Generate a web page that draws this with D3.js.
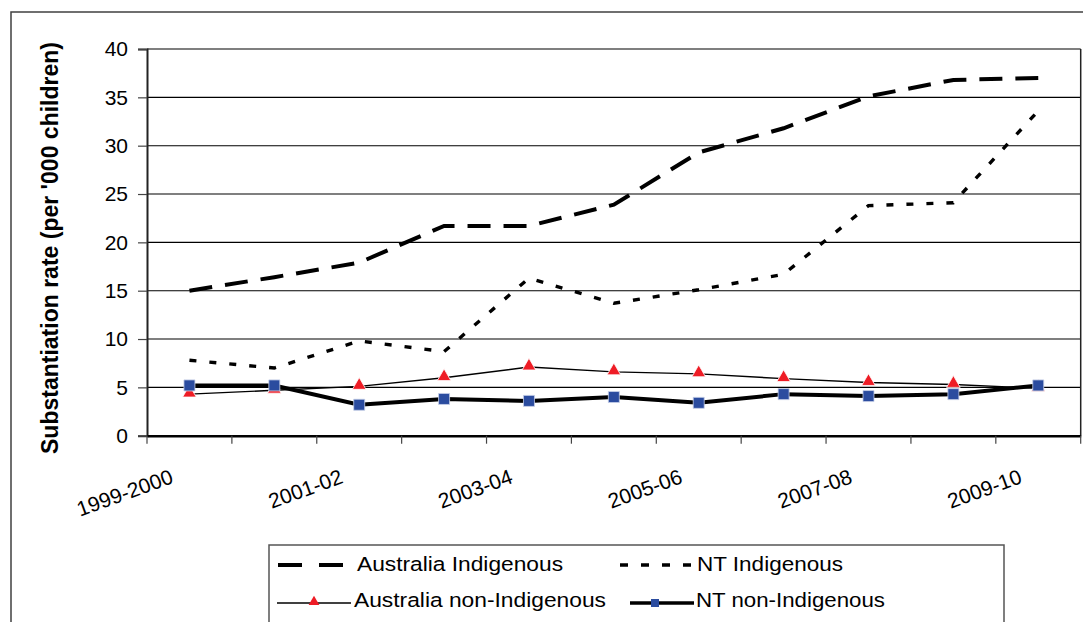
<!DOCTYPE html>
<html><head><meta charset="utf-8">
<script src="https://cdn.jsdelivr.net/npm/d3@7"></script>
<style>body{margin:0;background:#fff}svg{display:block}text{font-family:Arial,"Liberation Sans",sans-serif}</style>
</head><body><svg id="c" width="1083" height="622"></svg>
<script>
const categories = ["1999-2000","2000-01","2001-02","2002-03","2003-04","2004-05","2005-06","2006-07","2007-08","2008-09","2009-10"];
const tickLabels = ["1999-2000","2001-02","2003-04","2005-06","2007-08","2009-10"];
const yTicks = [0,5,10,15,20,25,30,35,40];
const ausIndigenous = [15.0,16.4,17.9,21.7,21.7,23.9,29.3,31.8,35.1,36.8,37.0];
const ntIndigenous = [7.8,7.0,9.8,8.7,16.3,13.7,15.1,16.7,23.8,24.1,33.6];
const ausNonIndigenous = [4.3,4.7,5.1,6.0,7.1,6.6,6.4,5.9,5.5,5.3,4.9];
const ntNonIndigenous = [5.2,5.2,3.2,3.8,3.6,4.0,3.4,4.3,4.1,4.3,5.2];
const seriesNames = ["Australia Indigenous","NT Indigenous","Australia non-Indigenous","NT non-Indigenous"];

const svg = d3.select("#c");
const L=147, R=1080.7, T=49, B=435.7;
const x = d3.scaleBand().domain(categories).range([L,R]);
const y = d3.scaleLinear().domain([0,40]).range([B,T]);
const cx = c => x(c)+x.bandwidth()/2;

// outer frame
svg.append("rect").attr("x",11).attr("y",12).attr("width",1100).attr("height",700)
  .attr("fill","none").attr("stroke","#404040").attr("stroke-width",1.5);

// gridlines
svg.append("g").selectAll("line").data(yTicks.filter(d=>d>0)).join("line")
  .attr("x1",L).attr("x2",R).attr("y1",d=>y(d)).attr("y2",d=>y(d))
  .attr("stroke","#000").attr("stroke-width",1.1);
svg.append("line").attr("x1",R).attr("x2",R).attr("y1",T).attr("y2",B).attr("stroke","#222").attr("stroke-width",1.5);

// y axis
const ya = svg.append("g").attr("transform",`translate(${L},0)`)
  .call(d3.axisLeft(y).tickValues(yTicks).tickSize(9).tickPadding(10));
ya.select(".domain").attr("stroke","#222").attr("stroke-width",2);
ya.selectAll(".tick line").attr("stroke","#444").attr("stroke-width",1.2);
ya.selectAll("text").attr("font-size",21).attr("fill","#000").style("font-family","Arial,'Liberation Sans',sans-serif");

// x axis
const xa = svg.append("g").attr("transform",`translate(0,${B})`)
  .call(d3.axisBottom(x).tickSize(0).tickFormat(""));
xa.select(".domain").attr("stroke","#000").attr("stroke-width",2.5);
const tickPos = categories.map(c=>x(c)).concat([R]);
svg.append("g").selectAll("line").data(tickPos).join("line")
  .attr("x1",d=>d).attr("x2",d=>d).attr("y1",B).attr("y2",B+8)
  .attr("stroke","#444").attr("stroke-width",1.2);
svg.append("g").selectAll("text").data(tickLabels).join("text")
  .attr("transform",d=>`translate(${cx(d)-15},482.5) rotate(-20)`)
  .attr("text-anchor","end").attr("font-size",21).attr("fill","#000").text(d=>d);

// y label
svg.append("text").attr("transform","translate(58,248) rotate(-90)")
  .attr("text-anchor","middle").attr("font-size",23).attr("font-weight","bold").attr("fill","#000")
  .attr("textLength",412).attr("lengthAdjust","spacingAndGlyphs")
  .text("Substantiation rate (per '000 children)");

const line = d3.line().x((d,i)=>cx(categories[i])).y(d=>y(d));

svg.append("path").datum(ausIndigenous).attr("d",line).attr("fill","none")
  .attr("stroke","#000").attr("stroke-width",4).attr("stroke-dasharray","23,13");
svg.append("path").datum(ntIndigenous).attr("d",line).attr("fill","none")
  .attr("stroke","#000").attr("stroke-width",3.4).attr("stroke-dasharray","7,13");
svg.append("path").datum(ausNonIndigenous).attr("d",line).attr("fill","none")
  .attr("stroke","#000").attr("stroke-width",1.4);
svg.append("path").datum(ntNonIndigenous).attr("d",line).attr("fill","none")
  .attr("stroke","#000").attr("stroke-width",4);

const tri = d3.symbol().type(d3.symbolTriangle).size(80);
const sq = d3.symbol().type(d3.symbolSquare).size(121);
svg.append("g").selectAll("path").data(ausNonIndigenous).join("path")
  .attr("transform",(d,i)=>`translate(${cx(categories[i])},${y(d)-1})`).attr("d",tri)
  .attr("fill","#EE1C25").attr("stroke","#fff").attr("stroke-width",0.8);
svg.append("g").selectAll("path").data(ntNonIndigenous).join("path")
  .attr("transform",(d,i)=>`translate(${cx(categories[i])},${y(d)})`).attr("d",sq)
  .attr("fill","#2B4C9F").attr("stroke","#c8d0e8").attr("stroke-width",0.8);

// legend
const lg = svg.append("g");
lg.append("rect").attr("x",269).attr("y",545).attr("width",735).attr("height",120)
  .attr("fill","#fff").attr("stroke","#555").attr("stroke-width",1.5);
const leg = [
  {name:seriesNames[0], x1:278, x2:343, tx:357, ly:565, ty:570.7, tl:206, w:4, dash:"24,17"},
  {name:seriesNames[1], x1:620, x2:695, tx:697, ly:565, ty:570.7, tl:146, w:3.4, dash:"8,13"},
  {name:seriesNames[2], x1:277, x2:351, tx:354, ly:603, ty:606.7, tl:252, w:1.3, dash:null, m:"tri", mx:314},
  {name:seriesNames[3], x1:630, x2:694, tx:696, ly:603, ty:606.7, tl:189, w:3.5, dash:null, m:"sq", mx:655}
];
leg.forEach(e=>{
  lg.append("line").attr("x1",e.x1).attr("x2",e.x2).attr("y1",e.ly).attr("y2",e.ly)
    .attr("stroke","#000").attr("stroke-width",e.w).attr("stroke-dasharray",e.dash);
  if(e.m==="tri") lg.append("path").attr("transform",`translate(${e.mx},${e.ly-1})`)
    .attr("d",d3.symbol().type(d3.symbolTriangle).size(50)).attr("fill","#EE1C25");
  if(e.m==="sq") lg.append("path").attr("transform",`translate(${e.mx},${e.ly})`)
    .attr("d",d3.symbol().type(d3.symbolSquare).size(64)).attr("fill","#2B4C9F");
  lg.append("text").attr("x",e.tx).attr("y",e.ty)
    .attr("font-size",20.5).attr("fill","#000")
    .attr("textLength",e.tl).attr("lengthAdjust","spacingAndGlyphs").text(e.name);
});
</script></body></html>
